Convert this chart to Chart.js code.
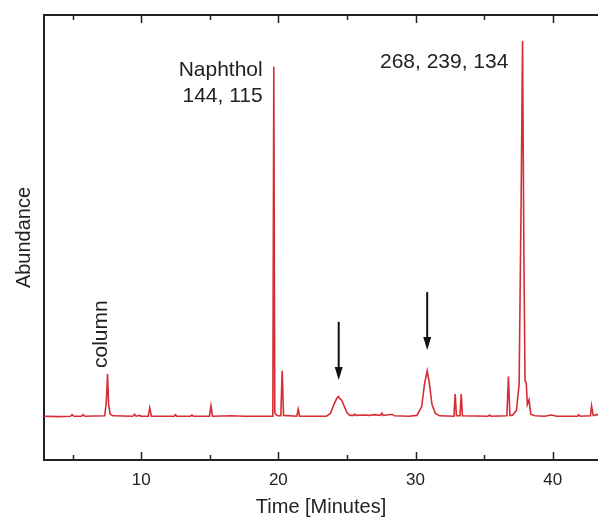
<!DOCTYPE html>
<html>
<head>
<meta charset="utf-8">
<script src="https://cdn.jsdelivr.net/npm/chart.js@4.4.0/dist/chart.umd.min.js"></script>
<style>
  body { margin: 0; background: #fff; }
  #wrap { width: 598px; height: 520px; }
</style>
</head>
<body>
<div id="wrap"><canvas id="grafico" width="598" height="520"></canvas></div>
<script>
// Chromatogram data (time in minutes, abundance in arbitrary units)
const tempos = [
  2.92, 4.0, 4.85, 4.97, 5.1, 5.65, 5.77, 5.9,
  7.35, 7.47, 7.55, 7.63, 7.75, 7.95,
  9.4, 9.52, 9.62, 9.9, 10.0, 10.52, 10.63, 10.75,
  12.4, 12.5, 12.6, 13.6, 13.7, 13.8,
  14.98, 15.09, 15.2, 16.6, 17.5,
  19.55, 19.6, 19.67, 19.74, 19.8, 19.95, 20.18, 20.28, 20.38,
  21.35, 21.45, 21.55,
  23.5, 23.8, 24.05, 24.25, 24.38, 24.5, 24.62, 24.8, 25.0, 25.2,
  25.5, 25.55, 25.7, 26.2, 26.6, 27.0, 27.45, 27.55, 27.65, 28.3, 28.45, 29.5,
  30.1, 30.45, 30.65, 30.85, 31.0, 31.2, 31.45, 31.75,
  32.8, 32.89, 32.98, 33.24, 33.33, 33.42,
  35.3, 35.4, 35.5,
  36.66, 36.77, 36.88, 37.05, 37.35, 37.55, 37.7, 37.8, 37.9, 37.98,
  38.07, 38.15, 38.27, 38.4, 38.7,
  39.4, 39.9, 40.3, 41.8, 41.9, 42.0,
  42.75, 42.83, 42.95, 43.1, 43.2, 43.3
];
const abundancia = [
  0.1, 0.0, 0.1, 0.5, 0.1, 0.1, 0.5, 0.1,
  0.2, 4.0, 10.6, 3.0, 0.6, 0.2,
  0.1, 0.6, 0.1, 0.3, 0.1, 0.1, 2.2, 0.1,
  0.1, 0.5, 0.1, 0.1, 0.4, 0.1,
  0.1, 2.7, 0.1, 0.2, 0.1,
  0.1, 1.0, 87.1, 1.0, 0.6, 0.2, 0.2, 11.4, 0.3,
  0.1, 1.8, 0.1,
  0.1, 0.8, 3.0, 4.5, 5.0, 4.4, 4.1, 2.6, 1.0, 0.3,
  0.3, 0.6, 0.3, 0.4, 0.3, 0.5, 0.3, 0.9, 0.3, 0.6, 0.2, 0.1,
  0.3, 2.5, 8.0, 11.4, 8.5, 3.0, 0.8, 0.2,
  0.1, 5.6, 0.2, 0.2, 5.6, 0.2,
  0.1, 0.4, 0.1,
  0.2, 10.0, 0.3, 0.3, 1.5, 8.0, 55, 93.5, 40, 9.0,
  8.4, 3.0, 4.2, 0.6, 0.2,
  0.1, 0.4, 0.1, 0.1, 0.5, 0.1,
  0.2, 2.7, 0.3, 0.3, 0.6, 0.3
];

const xTicks = [10, 20, 30, 40];
const xMinorTicks = [5, 15, 25, 35];

// rótulos e setas (em coordenadas de dados)
const rotulos = [
  { text: 'Naphthol', x: 18.86, y: 84.8, align: 'right' },
  { text: '144, 115', x: 18.86, y: 78.4, align: 'right' },
  { text: '268, 239, 134', x: 36.77, y: 86.7, align: 'right' },
  { text: 'column', x: 7.5, y: 12.1, align: 'left', rotate: true }
];
const setas = [
  { x: 24.4, from: 23.6, to: 9.1 },
  { x: 30.85, from: 31.0, to: 16.6 }
];

const fonte = 'Liberation Sans, Arial, sans-serif';
const corTexto = '#222';

const extras = {
  id: 'extras',
  afterDraw(chart) {
    const c = chart.ctx;
    const a = chart.chartArea;
    const sx = chart.scales.x, sy = chart.scales.y;
    c.save();
    // borda superior
    c.strokeStyle = corTexto;
    c.lineWidth = 2;
    c.beginPath();
    c.moveTo(a.left - 1, a.top);
    c.lineTo(a.right, a.top);
    c.stroke();
    // ticks para dentro
    c.lineWidth = 1.5;
    const tick = (v, len) => {
      const px = Math.round(sx.getPixelForValue(v)) + 0.5;
      c.beginPath();
      c.moveTo(px, a.bottom); c.lineTo(px, a.bottom - len);
      c.moveTo(px, a.top); c.lineTo(px, a.top + len);
      c.stroke();
    };
    xTicks.forEach(v => tick(v, 8));
    xMinorTicks.forEach(v => tick(v, 5));
    // textos
    c.fillStyle = corTexto;
    c.font = '21px ' + fonte;
    c.textBaseline = 'alphabetic';
    rotulos.forEach(r => {
      const px = sx.getPixelForValue(r.x), py = sy.getPixelForValue(r.y);
      c.save();
      c.translate(px, py);
      if (r.rotate) c.rotate(-Math.PI / 2);
      c.textAlign = r.align;
      c.fillText(r.text, 0, 0);
      c.restore();
    });
    // setas
    setas.forEach(s => {
      const px = sx.getPixelForValue(s.x);
      const y0 = sy.getPixelForValue(s.from), y1 = sy.getPixelForValue(s.to);
      c.strokeStyle = '#111';
      c.fillStyle = '#111';
      c.lineWidth = 2;
      c.beginPath();
      c.moveTo(px, y0); c.lineTo(px, y1 - 10);
      c.stroke();
      c.beginPath();
      c.moveTo(px - 4, y1 - 13);
      c.lineTo(px + 4, y1 - 13);
      c.lineTo(px, y1);
      c.closePath();
      c.fill();
    });
    c.restore();
  }
};

const ctx = document.getElementById('grafico').getContext('2d');
const myChart = new Chart(ctx, {
  type: 'line',
  data: {
    datasets: [{
      label: 'Abundance',
      data: tempos.map((t, i) => ({ x: t, y: abundancia[i] })),
      borderColor: 'rgb(214, 45, 52)',
      borderWidth: 1.6,
      pointRadius: 0,
      tension: 0,
      fill: false
    }]
  },
  options: {
    responsive: false,
    animation: false,
    layout: { padding: { top: 15, right: 0, left: 0, bottom: 0 } },
    plugins: { legend: { display: false }, tooltip: { enabled: false } },
    scales: {
      x: {
        type: 'linear',
        min: 2.92,
        max: 43.3,
        afterBuildTicks: s => { s.ticks = xTicks.map(v => ({ value: v })); },
        afterFit: s => { s.height = 60; },
        grid: { display: false },
        border: { display: true, color: corTexto, width: 2 },
        ticks: { color: corTexto, font: { family: fonte, size: 17 }, padding: 2, maxRotation: 0 },
        title: {
          display: true, text: 'Time [Minutes]', color: corTexto,
          font: { family: fonte, size: 20 }, padding: { top: 0, bottom: 1 }
        }
      },
      y: {
        min: -10.8,
        max: 100,
        afterFit: s => { s.width = 44; },
        grid: { display: false },
        border: { display: true, color: corTexto, width: 2 },
        ticks: { display: false },
        title: {
          display: true, text: 'Abundance', color: corTexto,
          font: { family: fonte, size: 20 }, padding: { top: 12, bottom: 0 }
        }
      }
    }
  },
  plugins: [extras]
});
</script>
</body>
</html>
